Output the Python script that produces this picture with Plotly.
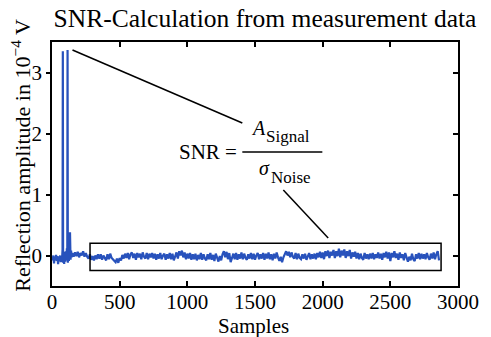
import plotly.graph_objects as go

# ---------------- data ----------------
# pulse region (fine sampling)
pulse_samples = [0, 5, 10, 15, 20, 25, 30, 35, 40, 45, 50, 55, 60, 65, 70,
                 74, 78, 80, 82, 86, 90, 94, 98, 102, 106, 110, 113, 115, 117,
                 121, 125, 129, 133, 137, 141, 145]
pulse_amplitude = [-0.02, -0.08, 0.00, -0.13, -0.02, -0.07, 0.01, -0.09, -0.01, -0.14,
                   -0.02, -0.07, 0.00, -0.11, -0.03,
                   -0.08, 0.10, 3.35, -0.12, 0.06, -0.14, 0.05, -0.10, 0.07, -0.08, 0.12,
                   -0.06, 3.37, -0.12, 0.15, -0.09, 0.10, 0.38, -0.07, 0.08, -0.03]

# noise region, every 10 samples from 150 to 2860
noise_samples = list(range(150, 2870, 10))
noise_amplitude = [
    0.04, -0.02, 0.05, -0.01, 0.06, -0.03, 0.04, 0.00, 0.07, -0.02,
    0.04, -0.02, -0.05, 0.02, -0.07, -0.01, -0.08, 0.00, -0.06, 0.02,
    -0.05, 0.02, -0.07, 0.00, -0.04, -0.08, 0.02, -0.06, 0.03, -0.04,
    -0.06, -0.09, -0.11, -0.05, -0.12, -0.04, -0.08, 0.01, -0.05, 0.03,
    -0.04, 0.04, -0.06, 0.02, 0.05, -0.04, 0.03, -0.07, 0.04, -0.03,
    0.03, -0.06, 0.05, -0.02, -0.05, 0.04, -0.06, 0.03, -0.03, 0.04,
    -0.05, 0.03, -0.07, 0.02, -0.05, 0.04, -0.06, 0.00, 0.03, -0.07,
    0.02, -0.05, 0.04, -0.06, 0.03, -0.08, 0.00, 0.05, -0.05, 0.07,
    0.00, 0.08, -0.03, 0.05, -0.06, 0.03, -0.05, 0.04, -0.07, 0.02,
    -0.06, 0.03, -0.08, 0.01, -0.06, 0.04, -0.07, 0.02, -0.05, -0.08,
    0.02, -0.06, 0.04, -0.07, 0.01, -0.09, 0.03, -0.06, -0.10, -0.01,
    -0.08, 0.02, 0.07, -0.03, 0.06, -0.06, 0.04, -0.11, -0.02, 0.03,
    -0.06, 0.04, -0.07, 0.02, -0.05, 0.05, -0.06, 0.03, -0.04, -0.07,
    0.02, -0.05, 0.04, -0.06, 0.03, -0.07, 0.00, 0.04, -0.06, 0.02,
    -0.05, 0.04, -0.07, 0.03, -0.05, 0.05, -0.06, 0.02, -0.08, 0.03,
    -0.05, 0.05, -0.03, -0.09, -0.02, -0.11, -0.03, 0.04, 0.07, 0.00,
    0.06, -0.03, 0.05, -0.02, -0.05, 0.04, -0.06, 0.03, -0.04, -0.06,
    0.02, -0.05, 0.03, -0.07, 0.00, 0.04, -0.06, 0.02, -0.05, 0.03,
    -0.06, 0.04, -0.03, 0.06, -0.04, 0.05, -0.06, 0.07, -0.01, 0.08,
    -0.04, 0.06, 0.00, 0.09, -0.04, 0.07, -0.01, 0.11, -0.03, 0.08,
    0.00, 0.10, -0.04, 0.07, -0.01, 0.09, -0.05, 0.05, -0.02, 0.06,
    -0.05, 0.04, -0.06, 0.03, -0.04, -0.07, 0.04, -0.05, 0.02, -0.06,
    0.03, -0.05, 0.04, -0.06, 0.02, -0.04, 0.05, -0.05, 0.03, -0.07,
    0.04, -0.03, 0.06, -0.05, 0.05, -0.09, 0.04, -0.03, 0.07, -0.04,
    0.03, -0.07, 0.05, -0.04, 0.02, -0.08, 0.04, -0.05, -0.10, -0.02,
    -0.08, 0.03, -0.06, -0.09, 0.02, -0.05, 0.04, -0.06, 0.03, -0.05,
    0.02, -0.06, 0.04, -0.03, -0.07, 0.03, -0.05, 0.05, -0.06, 0.02,
    0.07, -0.08,
]

x_ticks = [0, 500, 1000, 1500, 2000, 2500, 3000]
y_ticks = [0, 1, 2, 3]

samples = pulse_samples + noise_samples
amplitude = pulse_amplitude + noise_amplitude

# ---------------- figure ----------------
W, H = 491, 337
L, R, T, B = 52, 23, 42, 51
PW, PH = W - L - R, H - T - B
FONT = "Liberation Serif"


def px(xpix):
    return (xpix - L) / PW


def py(ypix):
    return (H - B - ypix) / PH


fig = go.Figure()
fig.add_trace(go.Scatter(x=samples, y=amplitude, mode="lines",
                         line=dict(color="rgb(40,82,188)", width=2.2),
                         showlegend=False, hoverinfo="skip"))
fig.add_trace(go.Scatter(x=[None], y=[None], yaxis="y2", showlegend=False,
                         hoverinfo="skip"))

shapes = [
    # noise window
    dict(type="rect", xref="x", yref="y", x0=281, x1=2875, y0=-0.245, y1=0.2,
         line=dict(color="black", width=1.5)),
    # pointer lines
    dict(type="line", xref="paper", yref="paper", x0=px(73), y0=py(50),
         x1=px(247), y1=py(123), line=dict(color="black", width=1.5)),
    dict(type="line", xref="paper", yref="paper", x0=px(289), y0=py(190),
         x1=px(335), y1=py(238), line=dict(color="black", width=1.5)),
    # fraction bar
    dict(type="line", xref="paper", yref="paper", x0=px(247), y0=py(152),
         x1=px(329), y1=py(152), line=dict(color="black", width=1.5)),
]

annotations = [
    dict(text="SNR =", x=px(212), y=py(152), xref="paper", yref="paper",
         showarrow=False, font=dict(family=FONT, size=21, color="black"),
         xanchor="center", yanchor="middle"),
    dict(text="<i>A</i>", x=px(264), y=py(128), xref="paper", yref="paper",
         showarrow=False, font=dict(family=FONT, size=20, color="black"),
         xanchor="center", yanchor="middle"),
    dict(text="Signal", x=px(269), y=py(136), xref="paper", yref="paper",
         showarrow=False, font=dict(family=FONT, size=17, color="black"),
         xanchor="left", yanchor="middle"),
    dict(text="<i>σ</i>", x=px(270), y=py(168), xref="paper", yref="paper",
         showarrow=False, font=dict(family=FONT, size=20, color="black"),
         xanchor="center", yanchor="middle"),
    dict(text="Noise", x=px(274), y=py(177), xref="paper", yref="paper",
         showarrow=False, font=dict(family=FONT, size=17, color="black"),
         xanchor="left", yanchor="middle"),
    # axis titles
    dict(text="Samples", x=px(258), y=py(326), xref="paper", yref="paper",
         showarrow=False, font=dict(family=FONT, size=21, color="black"),
         xanchor="center", yanchor="middle"),
    dict(text="Reflection amplitude in 10<sup>−4</sup> V", x=px(20), y=py(155),
         xref="paper", yref="paper", textangle=-90, showarrow=False,
         font=dict(family=FONT, size=22, color="black"),
         xanchor="center", yanchor="middle"),
]

fig.update_layout(
    width=W, height=H,
    margin=dict(l=L, r=R, t=T, b=B, pad=0),
    paper_bgcolor="white", plot_bgcolor="white",
    font=dict(family=FONT, size=21, color="black"),
    title=dict(text="SNR-Calculation from measurement data",
               x=265 / W, xref="container", xanchor="center",
               y=1 - 18 / H, yref="container", yanchor="middle",
               font=dict(family=FONT, size=25.5, color="black")),
    xaxis=dict(range=[0, 3000], tickvals=x_ticks, ticks="inside", ticklen=5,
               tickwidth=1.5, tickcolor="black", showline=True, linecolor="black",
               linewidth=1.5, mirror="ticks", showgrid=False, zeroline=False,
               ticklabelstandoff=-4,
               tickfont=dict(family=FONT, size=21, color="black")),
    yaxis=dict(range=[-0.5, 3.5], tickvals=y_ticks, ticks="outside", ticklen=4,
               tickwidth=1.5, tickcolor="black", showline=True, linecolor="black",
               linewidth=1.5, mirror=True, showgrid=False, zeroline=False,
               tickfont=dict(family=FONT, size=21, color="black")),
    yaxis2=dict(range=[-0.5, 3.5], tickvals=y_ticks, ticks="inside", ticklen=5,
                tickwidth=1.5, tickcolor="black", overlaying="y", side="right",
                showticklabels=False, showline=False, showgrid=False,
                zeroline=False),
    shapes=shapes,
    annotations=annotations,
    showlegend=False,
)

fig.write_html("out.html")
